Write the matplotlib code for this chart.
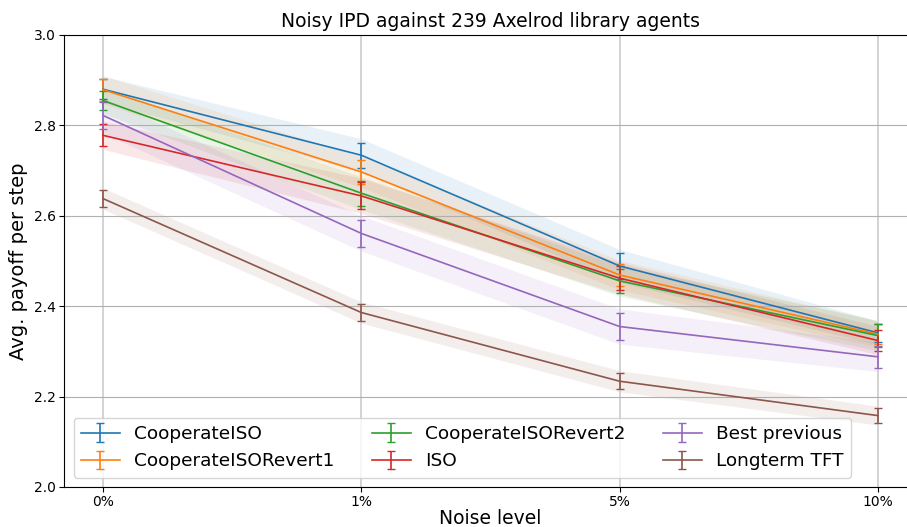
import matplotlib.pyplot as plt
import numpy as np

noise_labels = ["0%", "1%", "5%", "10%"]
agents = ["CooperateISO", "CooperateISORevert1", "CooperateISORevert2",
          "ISO", "Best previous", "Longterm TFT"]
means = [
    [2.880, 2.734, 2.489, 2.341],
    [2.879, 2.697, 2.469, 2.338],
    [2.855, 2.650, 2.456, 2.335],
    [2.778, 2.644, 2.462, 2.324],
    [2.822, 2.561, 2.355, 2.288],
    [2.638, 2.386, 2.234, 2.158],
]
errs = [
    [0.022, 0.028, 0.028, 0.020],
    [0.024, 0.026, 0.025, 0.022],
    [0.022, 0.028, 0.026, 0.026],
    [0.024, 0.030, 0.027, 0.024],
    [0.030, 0.030, 0.030, 0.025],
    [0.018, 0.018, 0.018, 0.016],
]
colors = ["#1f77b4", "#ff7f0e", "#2ca02c", "#d62728", "#9467bd", "#8c564b"]

fig = plt.figure(figsize=(9.07, 5.27), dpi=100)
ax = fig.add_axes([64.3 / 907, 40 / 527, 852.4 / 907, 452 / 527])
x = np.arange(len(noise_labels))
for name, m, e, c in zip(agents, means, errs, colors):
    m = np.array(m)
    e = np.array(e)
    ax.fill_between(x, m - e * 1.3, m + e * 1.3, color=c, alpha=0.1, linewidth=0)
    ax.errorbar(x, m, yerr=e, color=c, capsize=3, linewidth=1.2, label=name)

ax.set_xlim(-0.15, 3.15)
ax.set_ylim(2.0, 3.0)
ax.set_yticks(np.arange(2.0, 3.01, 0.2))
ax.set_xticks(x)
ax.set_xticklabels(noise_labels)
ax.tick_params(labelsize=10, pad=2.5)
ax.yaxis.grid(True, color="#b0b0b0", linewidth=0.8)
ax.xaxis.grid(True, color="#d0d0d0", linewidth=1.3)
ax.spines["right"].set_visible(False)
ax.set_xlabel("Noise level", fontsize=13.5, labelpad=0)
ax.set_ylabel("Avg. payoff per step", fontsize=14)
ax.set_title("Noisy IPD against 239 Axelrod library agents", fontsize=13.5)
ax.legend(ncol=3, loc="lower left", fontsize=13.3, borderaxespad=0.5,
          columnspacing=2.0, handlelength=2.1, labelspacing=0.5,
          borderpad=0.4)

fig.savefig("out.png", dpi=100)
